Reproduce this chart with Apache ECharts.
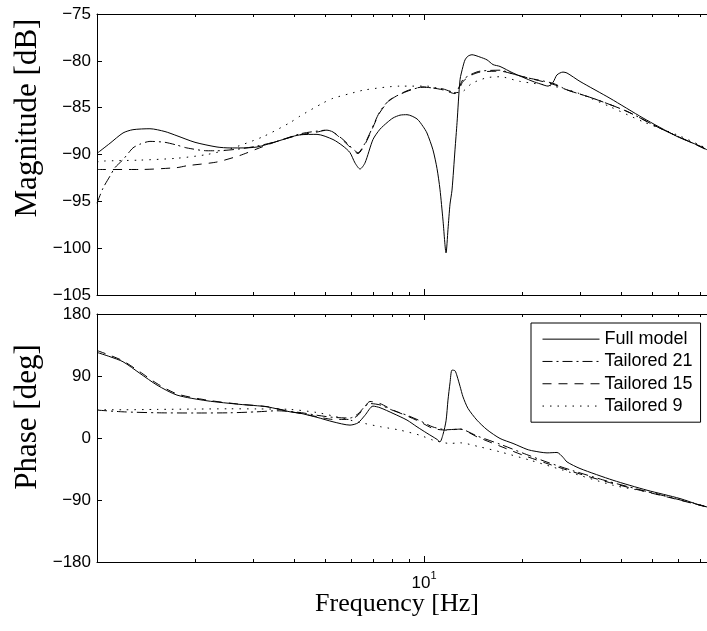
<!DOCTYPE html>
<html>
<head>
<meta charset="utf-8">
<script src="https://cdn.jsdelivr.net/npm/echarts@6/dist/echarts.min.js"></script>
<style>
html,body{margin:0;padding:0;background:#fff;}
#chart{width:707px;height:631px;}
</style>
</head>
<body>
<div id="chart"></div>
<script>
// ---- data (frequency in Hz, magnitude in dB, phase in deg) ----
const seriesNames = ['Full model', 'Tailored 21', 'Tailored 15', 'Tailored 9'];

const magFullF = [1.007,1.096,1.201,1.288,1.452,1.614,1.756,1.994,2.328,2.551,2.737,3.085,3.552,4.176,4.708,5.269,5.654,5.939,6.152,6.373,6.600,6.982,7.335,7.708,8.041,8.445,8.872,9.520,9.930,10.21,10.65,10.96,11.19,11.43,11.68,11.84,12.01,12.18,12.44,12.62,12.89,13.16,13.35,13.63,14.02,14.84,15.59,16.26,17.08,18.72,21.54,22.63,23.95,24.80,25.51,26.61,27.37,30.00,37.06,46.74,59.39,69.82,73.36];
const magFull = [-89.8,-88.8,-87.7,-87.35,-87.25,-87.55,-88.0,-88.7,-89.2,-89.3,-89.3,-89.2,-88.6,-87.9,-87.85,-88.4,-89.1,-89.8,-90.9,-91.55,-90.9,-88.4,-87.3,-86.6,-86.1,-85.8,-85.75,-86.2,-87.0,-87.7,-89.5,-91.5,-93.7,-97.0,-100.5,-98.0,-95.3,-93.8,-89.5,-86.6,-82.0,-80.6,-79.9,-79.5,-79.35,-79.6,-79.9,-80.4,-80.6,-81.3,-82.2,-82.45,-82.7,-82.3,-81.5,-81.2,-81.3,-82.2,-84.0,-86.1,-88.07,-89.1,-89.5];

const magT21F = [1.000,1.043,1.096,1.135,1.201,1.288,1.353,1.452,1.614,1.756,1.884,2.170,2.328,2.737,3.085,3.552,4.176,4.708,5.051,5.269,5.654,5.939,6.284,6.600,6.836,7.335,7.871,8.872,9.930,10.65,11.43,12.44,12.89,13.16,14.02,14.84,17.08,18.72,20.65,24.80,27.37,32.87,41.77,52.69,66.47,73.36];
const magT21 = [-95.2,-93.6,-92.3,-91.4,-90.55,-89.3,-88.9,-88.6,-88.7,-89.0,-89.3,-89.6,-89.6,-89.4,-89.1,-88.6,-87.8,-87.5,-87.4,-87.6,-88.4,-89.1,-89.8,-88.8,-87.7,-85.4,-84.15,-83.26,-82.8,-82.9,-83.0,-83.4,-82.6,-82.0,-81.4,-81.1,-81.0,-81.4,-81.8,-82.4,-83.1,-84.0,-85.4,-87.2,-88.8,-89.5];

const magT15F = [1.000,1.353,1.756,1.884,2.328,2.737,3.085,3.552,4.176,4.708,5.051,5.269,5.654,5.939,6.284,6.600,6.836,7.335,7.871,8.872,9.930,10.65,11.43,12.44,12.89,13.16,14.02,14.84,17.08,18.72,20.65,24.80,27.37,32.87,41.77,52.69,66.47,73.36];
const magT15 = [-91.6,-91.6,-91.4,-91.2,-90.8,-90.1,-89.4,-88.6,-87.9,-87.6,-87.4,-87.6,-88.5,-89.2,-89.9,-88.9,-87.8,-85.5,-84.2,-83.2,-82.8,-82.9,-83.1,-83.5,-82.8,-82.2,-81.5,-81.2,-81.1,-81.4,-81.8,-82.5,-83.1,-84.0,-85.4,-87.2,-88.8,-89.5];

const magT9F = [1.000,1.043,1.353,1.756,2.170,2.551,3.218,3.892,4.176,4.912,5.269,5.939,6.600,8.445,10.21,11.43,12.89,14.02,15.59,17.08,19.67,24.80,29.37,37.06,46.74,59.39,69.82,73.36];
const magT9 = [-90.8,-90.7,-90.6,-90.4,-90.0,-89.4,-88.1,-86.6,-85.9,-84.5,-84.0,-83.5,-83.1,-82.7,-82.7,-83.1,-83.4,-82.4,-81.8,-81.7,-82.2,-82.7,-83.4,-84.9,-86.5,-87.9,-89.0,-89.4];

const phFullF = [1.007,1.096,1.201,1.353,1.526,1.756,2.170,2.737,3.311,3.892,4.176,4.708,5.269,5.939,6.284,6.600,6.982,7.335,8.041,8.872,9.520,10.21,10.96,11.19,11.43,11.68,11.84,12.01,12.18,12.44,12.62,12.89,13.16,13.63,14.52,15.59,17.08,18.72,20.65,21.54,23.78,25.51,26.61,27.37,30.00,37.84,48.08,60.67,69.82,73.36];
const phFull = [123.8,118.0,110.7,93.8,76.8,62.3,54.0,48.8,45.3,38.0,36.0,30.0,23.5,18.7,22.0,33.0,46.3,44.0,35.7,26.0,16.2,7.0,-2.0,-5.6,5.0,25.0,55.0,80.0,98.6,97.6,90.0,75.0,59.8,43.0,25.9,12.0,-0.7,-7.9,-16.5,-18.7,-21.6,-21.0,-28.0,-34.7,-44.3,-61.3,-75.8,-87.9,-97.6,-100];

const phT21F = [1.000,1.201,1.526,1.994,2.551,3.085,3.552,4.176,4.708,5.269,5.939,6.284,6.600,6.836,7.335,8.041,8.872,9.722,10.65,11.76,12.89,14.52,17.08,20.08,23.78,28.56,36.28,44.81,55.35,69.82,73.36];
const phT21 = [40.5,38,36.6,36.3,36.6,38,39.5,37,33,30,29,35,46,50,48,40,33,25,16,12,13,3,-9,-22,-35,-47.5,-62.5,-74,-85,-97.3,-99.5];

const phT15F = [1.000,1.096,1.201,1.353,1.526,1.756,2.170,2.737,3.311,3.892,4.708,5.269,5.939,6.284,6.600,6.836,7.335,8.041,8.872,9.722,10.65,11.76,12.89,14.52,17.08,20.08,23.78,28.56,36.28,44.81,55.35,69.82,73.36];
const phT15 = [127,120,112,96,79,64,55,49,45.5,38.5,31,27,27,33,46,53,50,40.5,32,23.5,13.9,11.4,12.9,1.7,-11.8,-24.9,-37,-49.2,-63.7,-74.8,-85.5,-97.6,-100];

const phT9F = [1.000,1.201,1.526,1.994,2.551,3.085,3.892,4.708,5.269,5.939,6.600,7.335,8.445,9.722,10.65,12.01,12.89,14.84,17.08,21.10,26.61,37.84,48.08,60.67,69.82,73.36];
const phT9 = [41,41,41.5,42,42.4,42.2,41.5,37,32,26,21,16.5,11.4,4,-3,-7.9,-7,-13,-20.1,-32.2,-46.7,-68.5,-78,-89,-97,-99.5];

const xMin = 1.0, xMax = 73.36;
const minorTicks = [2,3,4,5,6,7,8,9,20,30,40,50,60,70];
const majorTicks = [10];
const magTicks = {min: -105, max: -75, interval: 5};
const phTicks = {min: -180, max: 180, interval: 90};

// ---- chart ----
const SANS = 'Liberation Sans, Arial, Helvetica, sans-serif';
const SERIF = 'Liberation Serif, Times New Roman, serif';
const black = '#000';

function xAxisDef(g, pos, ticks, len, showLine, showLabel) {
  return {
    type: 'log', logBase: 10, gridIndex: g, position: pos, min: xMin, max: xMax,
    axisLine: {show: showLine, onZero: false, lineStyle: {color: black, width: 1}},
    axisTick: {show: true, inside: true, length: len, customValues: ticks, lineStyle: {color: black, width: 1}},
    axisLabel: showLabel ? {
      show: true, customValues: majorTicks, margin: 8,
      formatter: function () { return '{b|10}{s|1}'; },
      rich: {
        b: {fontSize: 17, fontFamily: SANS, color: black, lineHeight: 22, verticalAlign: 'bottom'},
        s: {fontSize: 11, fontFamily: SANS, color: black, lineHeight: 11, verticalAlign: 'top'}
      }
    } : {show: false},
    splitLine: {show: false}, minorTick: {show: false}
  };
}

const xAxes = [];
[0, 1].forEach(function (g) {
  xAxes.push(xAxisDef(g, 'bottom', minorTicks, 3, true, false));
  xAxes.push(xAxisDef(g, 'bottom', majorTicks, 6, false, g === 1));
  xAxes.push(xAxisDef(g, 'top', minorTicks, 3, true, false));
  xAxes.push(xAxisDef(g, 'top', majorTicks, 6, false, false));
});

function fmtY(v) { return v < 0 ? '\u2212' + Math.abs(v) : String(v); }

function yAxisDef(g, t) {
  return {
    type: 'value', gridIndex: g, position: 'left', min: t.min, max: t.max, interval: t.interval,
    axisLine: {show: true, onZero: false, lineStyle: {color: black, width: 1}},
    axisTick: {show: true, inside: true, length: 5, lineStyle: {color: black}},
    axisLabel: {show: true, formatter: fmtY, fontSize: 17, fontFamily: SANS, color: black, margin: 6},
    splitLine: {show: false}
  };
}

const styles = [
  {color: black, width: 1, type: 'solid'},
  {color: black, width: 1, type: [10, 4, 2, 4]},
  {color: black, width: 1, type: [9, 7]},
  {color: black, width: 1, type: [1.5, 6]}
];

function zip(f, v) { return f.map(function (x, i) { return [x, v[i]]; }); }

const magSets = [[magFullF, magFull], [magT21F, magT21], [magT15F, magT15], [magT9F, magT9]];
const phSets = [[phFullF, phFull], [phT21F, phT21], [phT15F, phT15], [phT9F, phT9]];

const series = [];
magSets.forEach(function (s, i) {
  series.push({type: 'line', name: seriesNames[i], xAxisIndex: 0, yAxisIndex: 0, data: zip(s[0], s[1]),
    symbol: 'none', showSymbol: false, smooth: 0.25, itemStyle: {color: black}, lineStyle: styles[i], z: 10 - i});
});
phSets.forEach(function (s, i) {
  series.push({type: 'line', name: seriesNames[i], xAxisIndex: 4, yAxisIndex: 1, data: zip(s[0], s[1]),
    symbol: 'none', showSymbol: false, smooth: 0.25, itemStyle: {color: black}, lineStyle: styles[i], z: 10 - i});
});

const chart = echarts.init(document.getElementById('chart'), null, {renderer: 'canvas'});
chart.setOption({
  animation: false,
  backgroundColor: '#fff',
  grid: [
    {left: 97, right: 0, top: 14, height: 281},
    {left: 97, right: 0, top: 314, height: 248}
  ],
  xAxis: xAxes,
  yAxis: [yAxisDef(0, magTicks), yAxisDef(1, phTicks)],
  legend: {
    data: seriesNames, orient: 'vertical', left: 531, top: 323,
    backgroundColor: '#fff', borderColor: black, borderWidth: 1, borderRadius: 0,
    padding: [5, 8, 5, 11], itemWidth: 57, itemHeight: 10, itemGap: 0,
    itemStyle: {opacity: 0},
    lineStyle: {width: 1, color: black},
    textStyle: {fontSize: 18, fontFamily: SANS, color: black, lineHeight: 22.3},
    selectedMode: false, z: 20
  },
  graphic: [
    {type: 'text', x: 28, y: 118, rotation: Math.PI / 2, z: 20,
      style: {text: 'Magnitude [dB]', font: '31px ' + SERIF, fill: black, textAlign: 'center', textVerticalAlign: 'middle'}},
    {type: 'text', x: 28, y: 417, rotation: Math.PI / 2, z: 20,
      style: {text: 'Phase [deg]', font: '31px ' + SERIF, fill: black, textAlign: 'center', textVerticalAlign: 'middle'}},
    {type: 'text', x: 397, y: 604, z: 20,
      style: {text: 'Frequency [Hz]', font: '26px ' + SERIF, fill: black, textAlign: 'center', textVerticalAlign: 'middle'}}
  ],
  series: series
});
</script>
</body>
</html>
